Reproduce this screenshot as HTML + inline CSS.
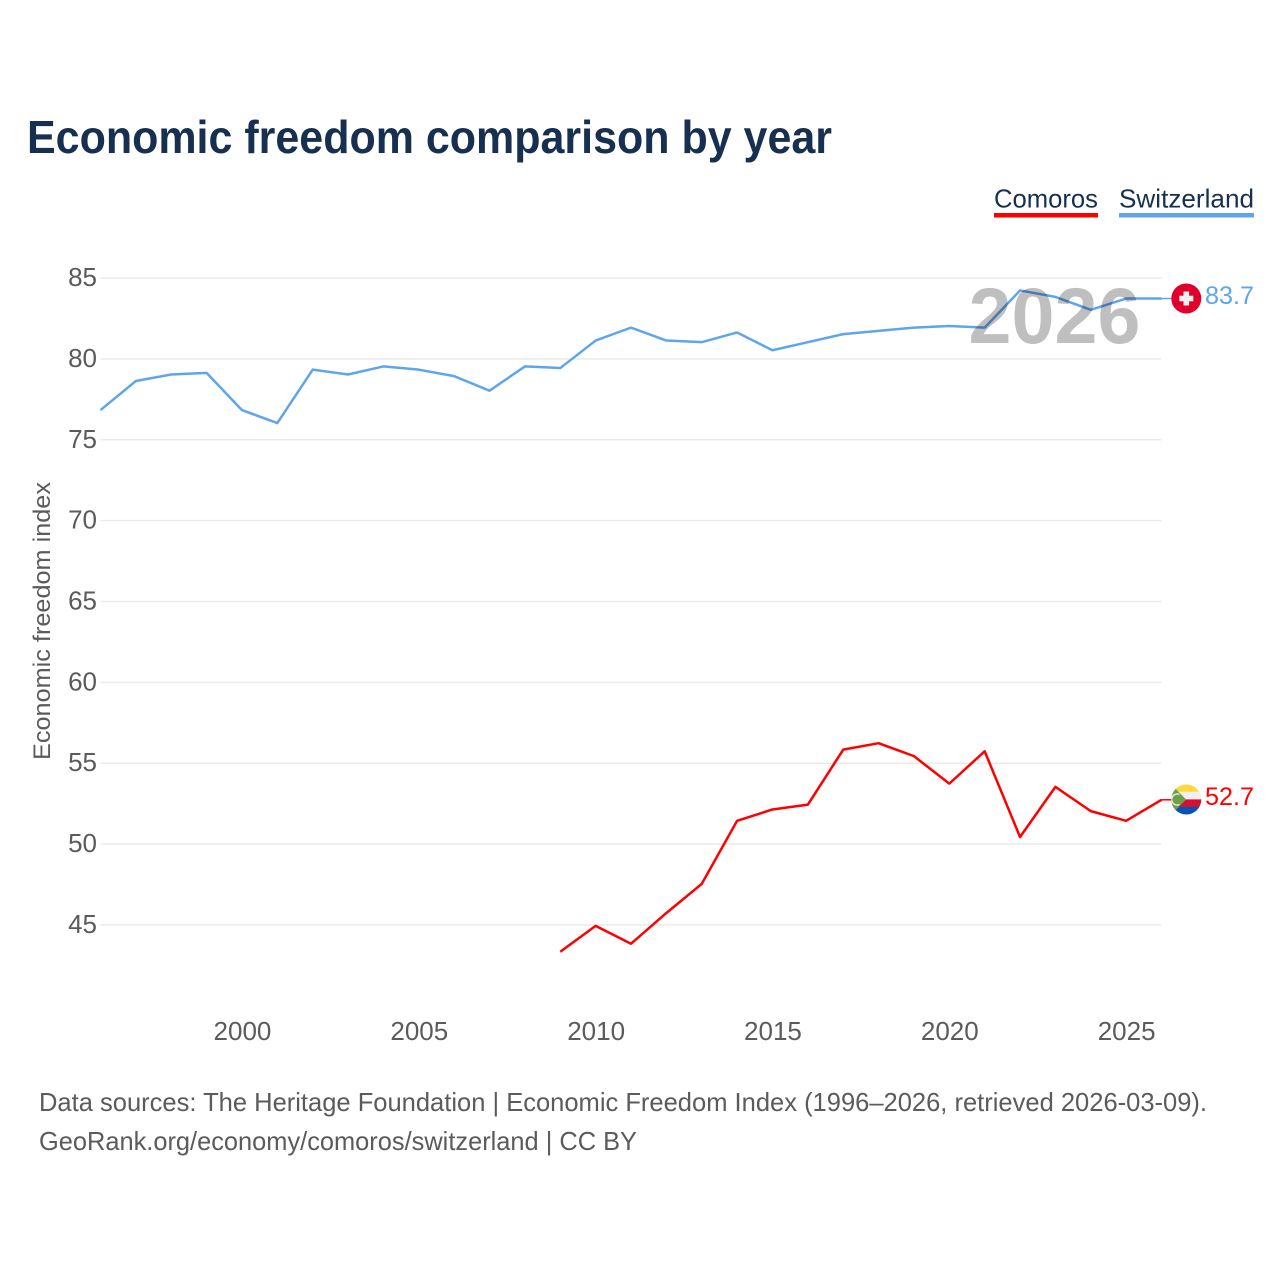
<!DOCTYPE html>
<html lang="en">
<head>
<meta charset="utf-8">
<title>Economic freedom comparison by year</title>
<style>
html,body{margin:0;padding:0;background:#fff;}
svg{display:block;font-family:"Liberation Sans",sans-serif;}
</style>
</head>
<body>
<svg id="chart" xmlns="http://www.w3.org/2000/svg" width="1280" height="1280" viewBox="0 0 1280 1280">
  <defs>
    <clipPath id="flag-clip-km"><circle cx="1186.3" cy="799.5" r="15"/></clipPath>
  </defs>
  <rect x="0" y="0" width="1280" height="1280" fill="#ffffff"/>
  <text x="27" y="153" font-size="46" font-weight="700" fill="#18304f" textLength="805" lengthAdjust="spacingAndGlyphs">Economic freedom comparison by year</text>

  <g>
    <text x="994" y="207.5" font-size="26" fill="#18304f" textLength="104" lengthAdjust="spacingAndGlyphs">Comoros</text>
    <rect x="994" y="213" width="104" height="4.5" fill="#ff0000"/>
  </g>
  <g>
    <text x="1119" y="207.5" font-size="26" fill="#18304f" textLength="135" lengthAdjust="spacingAndGlyphs">Switzerland</text>
    <rect x="1119" y="213" width="135" height="4.5" fill="#5fa5ec"/>
  </g>

  <text transform="translate(50,621) rotate(-90)" text-anchor="middle" font-size="24" fill="#5b5b5b" textLength="278" lengthAdjust="spacingAndGlyphs">Economic freedom index</text>

  <g id="grid"></g>
  <g id="yticks"></g>
  <g id="xticks"></g>
  <g id="series"></g>

  <text x="968.5" y="343" font-size="79" font-weight="700" fill="#000000" fill-opacity="0.25" textLength="172" lengthAdjust="spacingAndGlyphs">2026</text>

  <g>
    <circle cx="1186.3" cy="298.5" r="15" fill="#e0002b"/>
    <rect x="1179.3" y="295.7" width="14" height="5.6" fill="#f0f0f0"/>
    <rect x="1183.5" y="291.5" width="5.6" height="14" fill="#f0f0f0"/>
  </g>
  <g clip-path="url(#flag-clip-km)">
    <rect x="1171" y="784" width="31" height="8" fill="#ffd83d"/>
    <rect x="1171" y="791.7" width="31" height="7.8" fill="#f0f0f0"/>
    <rect x="1171" y="799.4" width="31" height="7.6" fill="#d80f2e"/>
    <rect x="1171" y="806.8" width="31" height="9" fill="#0a52b8"/>
    <polygon points="1170,783 1186,799.5 1170,816" fill="#6da04b"/>
    <path d="M1179.5,794.5 A5.5,5.5 0 1 0 1179.5,804.5" fill="none" stroke="#e8f0d8" stroke-width="1.4"/>
  </g>

  <text x="1205" y="304" font-size="25" fill="#5fa5ec" textLength="49" lengthAdjust="spacingAndGlyphs">83.7</text>
  <text x="1205" y="805" font-size="25" fill="#ff0000" textLength="49" lengthAdjust="spacingAndGlyphs">52.7</text>

  <text x="39" y="1111" font-size="26" fill="#5b5b5b" textLength="1168" lengthAdjust="spacingAndGlyphs">Data sources: The Heritage Foundation | Economic Freedom Index (1996–2026, retrieved 2026-03-09).</text>
  <text x="39" y="1150" font-size="26" fill="#5b5b5b" textLength="598" lengthAdjust="spacingAndGlyphs">GeoRank.org/economy/comoros/switzerland | CC BY</text>
</svg>
<script>
var yTicks = [45, 50, 55, 60, 65, 70, 75, 80, 85];
var xTicks = [2000, 2005, 2010, 2015, 2020, 2025];
var switzerlandYears = [1996,1997,1998,1999,2000,2001,2002,2003,2004,2005,2006,2007,2008,2009,2010,2011,2012,2013,2014,2015,2016,2017,2018,2019,2020,2021,2022,2023,2024,2025,2026];
var switzerlandValues = [76.8,78.6,79.0,79.1,76.8,76.0,79.3,79.0,79.5,79.3,78.9,78.0,79.5,79.4,81.1,81.9,81.1,81.0,81.6,80.5,81.0,81.5,81.7,81.9,82.0,81.9,84.2,83.8,83.0,83.7,83.7];
var comorosYears = [2009,2010,2011,2012,2013,2014,2015,2016,2017,2018,2019,2020,2021,2022,2023,2024,2025,2026];
var comorosValues = [43.3,44.9,43.8,45.7,47.5,51.4,52.1,52.4,55.8,56.2,55.4,53.7,55.7,50.4,53.5,52.0,51.4,52.7];

var NS = 'http://www.w3.org/2000/svg';
var plotLeft = 100.5, plotRight = 1161.5;
function xScale(year) { return plotLeft + (year - 1996) * (plotRight - plotLeft) / 30; }
function yScale(value) { return 924.3 - (value - 45) * (924.3 - 277.5) / 40; }
function make(tag, attrs) {
  var node = document.createElementNS(NS, tag);
  for (var k in attrs) { node.setAttribute(k, attrs[k]); }
  return node;
}
function linePoints(years, values) {
  return years.map(function (year, i) {
    return xScale(year).toFixed(2) + ',' + yScale(values[i]).toFixed(2);
  }).join(' ');
}

var grid = document.getElementById('grid');
var yLabels = document.getElementById('yticks');
var xLabels = document.getElementById('xticks');
var series = document.getElementById('series');

yTicks.forEach(function (tick) {
  var gridY = yScale(tick) + 0.6;
  var rule = make('line', { x1: plotLeft, x2: plotRight, y1: gridY, y2: gridY, stroke: '#ebebeb', 'stroke-width': 1.5 });
  
  
  grid.appendChild(rule);
  var label = make('text', { x: 97, y: gridY + 8, 'text-anchor': 'end', 'font-size': 26, fill: '#5b5b5b' });
  
  
  label.textContent = tick;
  yLabels.appendChild(label);
});

xTicks.forEach(function (tick) {
  var label = make('text', { x: xScale(tick) + 0.5, y: 1040, 'text-anchor': 'middle', 'font-size': 26, fill: '#5b5b5b' });
  
  
  label.textContent = tick;
  xLabels.appendChild(label);
});

var switzerlandLine = make('polyline', { points: linePoints(switzerlandYears, switzerlandValues), fill: 'none', stroke: '#5fa5ec', 'stroke-width': 2.5, 'stroke-linejoin': 'round' });


series.appendChild(switzerlandLine);

var comorosLine = make('polyline', { points: linePoints(comorosYears, comorosValues), fill: 'none', stroke: '#ff0000', 'stroke-width': 2.5, 'stroke-linejoin': 'round' });


series.appendChild(comorosLine);

var lastSwiss = switzerlandValues[switzerlandValues.length - 1];
var switzerlandConnector = make('line', { x1: plotRight, x2: 1172, y1: yScale(lastSwiss), y2: yScale(lastSwiss), stroke: '#5fa5ec', 'stroke-width': 1.5 });


series.appendChild(switzerlandConnector);

var lastComoros = comorosValues[comorosValues.length - 1];
var comorosConnector = make('line', { x1: plotRight, x2: 1172, y1: yScale(lastComoros), y2: yScale(lastComoros), stroke: '#ff0000', 'stroke-width': 1.5 });


series.appendChild(comorosConnector);
</script>
</body>
</html>
